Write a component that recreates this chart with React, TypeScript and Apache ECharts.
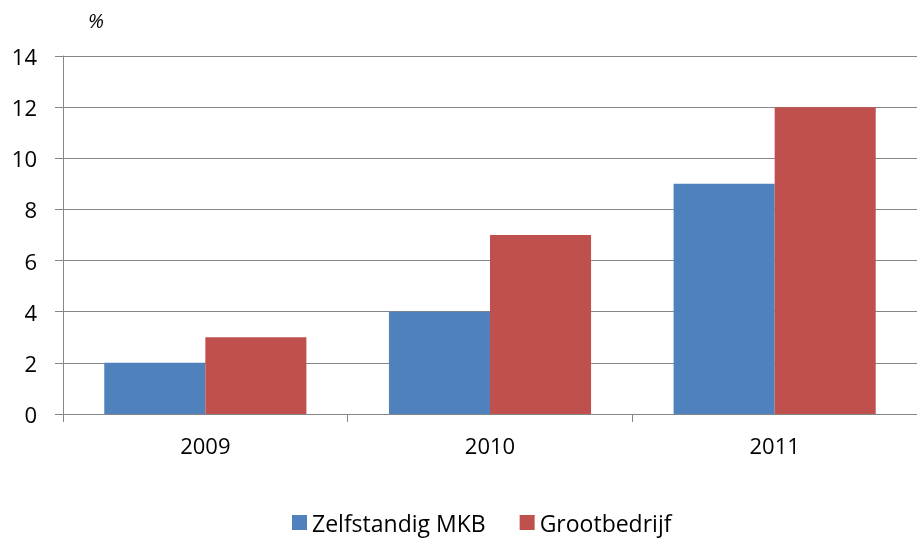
import React, { useEffect, useRef } from "react";
import * as echarts from "echarts";

const categories = ["2009", "2010", "2011"];
const seriesNames = ["Zelfstandig MKB", "Grootbedrijf"];
const mkbValues = [2, 4, 9];
const grootValues = [3, 7, 12];
const colors = ["#4F81BD", "#C0504D"];
const FONT = "'Open Sans', sans-serif";

export default function App() {
  const ref = useRef<HTMLDivElement>(null);
  useEffect(() => {
    const chart = echarts.init(ref.current!, null, { renderer: "svg" });
    chart.setOption({
      animation: false,
      textStyle: { fontFamily: FONT },
      grid: { left: 63, width: 861, top: 56, height: 358 },
      legend: {
        top: 506,
        left: 287,
        itemWidth: 15,
        itemHeight: 15,
        itemGap: 34,
        icon: "rect",
        textStyle: { fontSize: 23, color: "#000", fontFamily: FONT },
        data: seriesNames,
      },
      graphic: [
        {
          type: "text",
          left: 88,
          top: 10,
          style: { text: "%", fontSize: 20, fontStyle: "italic", fill: "#000", fontFamily: FONT },
        },
      ],
      xAxis: {
        type: "category",
        data: categories,
        axisLine: { lineStyle: { color: "#868686", width: 1 } },
        axisTick: { show: true, length: 8, alignWithLabel: false, lineStyle: { color: "#868686" } },
        axisLabel: { fontSize: 22, color: "#000", margin: 20, fontFamily: FONT },
      },
      yAxis: {
        type: "value",
        min: 0,
        max: 14,
        interval: 2,
        axisLine: { show: true, lineStyle: { color: "#868686", width: 1 } },
        axisTick: { show: true, length: 8, lineStyle: { color: "#868686" } },
        axisLabel: { fontSize: 22, color: "#000", margin: 26, fontFamily: FONT },
        splitLine: { show: true, lineStyle: { color: "#868686", width: 1 } },
      },
      series: [
        {
          name: seriesNames[0],
          type: "bar",
          data: mkbValues,
          itemStyle: { color: colors[0] },
          barGap: "0%",
          barCategoryGap: "29%",
        },
        {
          name: seriesNames[1],
          type: "bar",
          data: grootValues,
          itemStyle: { color: colors[1] },
          barGap: "0%",
          barCategoryGap: "29%",
        },
      ],
    });
    return () => chart.dispose();
  }, []);
  return (
    <div
      ref={ref}
      style={{ position: "fixed", left: 0, top: 0, width: 917, height: 539, overflow: "hidden" }}
    />
  );
}
